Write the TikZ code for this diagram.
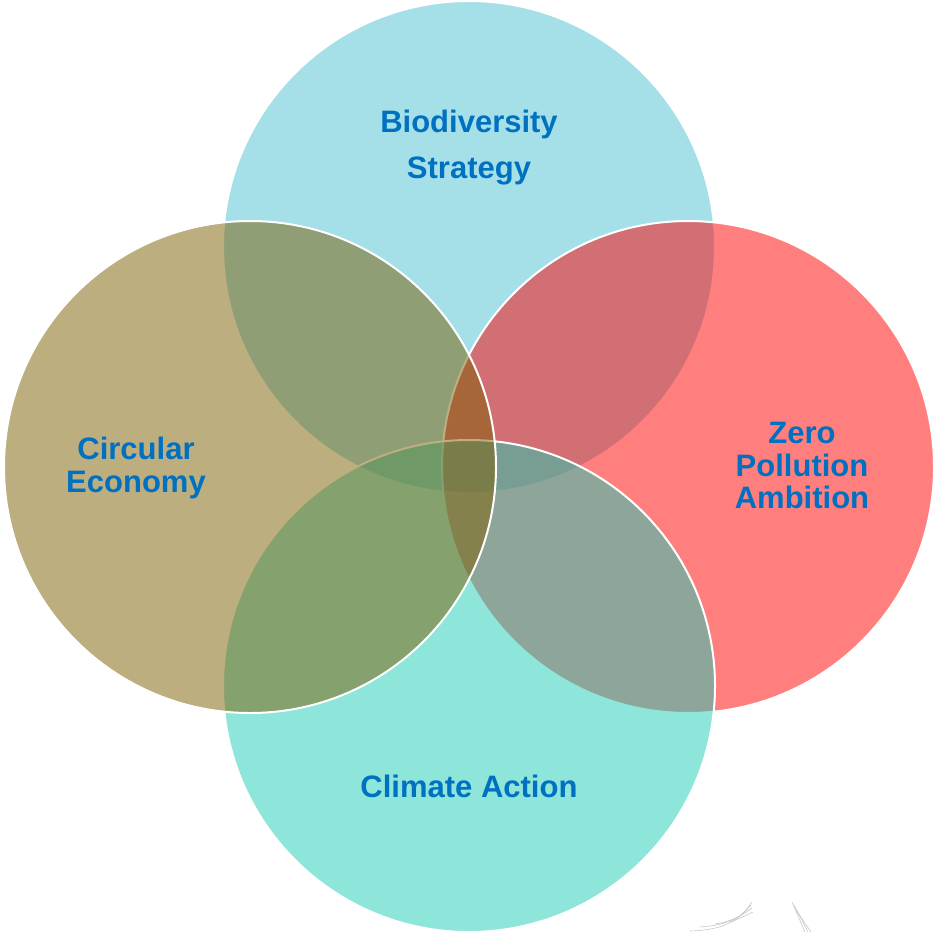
\documentclass[tikz,border=0pt]{standalone}
\usepackage{fontspec}
\setmainfont{Liberation Sans}
\definecolor{cTop}{RGB}{77,195,213}
\definecolor{cLeft}{RGB}{125,94,2}
\definecolor{cRight}{RGB}{255,0,0}
\definecolor{cBottom}{RGB}{31,205,181}
\definecolor{cText}{RGB}{0,112,192}
\definecolor{cFaint}{RGB}{200,200,200}
\tikzset{
  bub/.style={circle, minimum size=492pt, inner sep=0pt, outer sep=0pt,
    fill opacity=0.5, draw=white, line width=2pt},
  lbl/.style={anchor=base, inner sep=0pt, text=cText,
    font=\fontsize{31}{37}\selectfont\bfseries},
  faint/.style={draw=cFaint, line width=0.6pt}
}
\begin{document}
\begin{tikzpicture}[x=1pt,y=-1pt]
\useasboundingbox (0,0) rectangle (936,932);
\fill[white] (0,0) rectangle (936,932);
% circles, drawing order: top, right, bottom, left
\node[bub, fill=cTop] (top) at (469,247) {};
\node[bub, fill=cRight] (right) at (688,467) {};
\node[bub, fill=cBottom] (bottom) at (469,686) {};
\node[bub, fill=cLeft] (left) at (250,467) {};
% labels
\node[lbl] (bio1) at (469,132) {Biodiversity};
\node[lbl] (bio2) at (469,178) {Strategy};
\node[lbl] (cir1) at (136,459) {Circular};
\node[lbl] (cir2) at (136,492) {Economy};
\node[lbl] (zer1) at (802,443) {Zero};
\node[lbl] (zer2) at (802,476) {Pollution};
\node[lbl] (zer3) at (802,508) {Ambition};
\node[lbl] (cli1) at (469,797) {Climate Action};
% faint fragments at bottom right
\draw[faint] (690,931) .. controls (725,930) and (740,920) .. (752,902);
\draw[faint] (700,927) .. controls (730,925) and (742,916) .. (751,905);
\draw[faint] (715,924) .. controls (735,921) and (745,913) .. (752,908);
\draw[faint] (730,922) .. controls (742,918) and (748,914) .. (753,912);
\draw[faint] (792,902) -- (805,932);
\draw[faint] (794,905) -- (808,932);
\draw[faint] (796,910) -- (811,932);
\end{tikzpicture}
\end{document}
